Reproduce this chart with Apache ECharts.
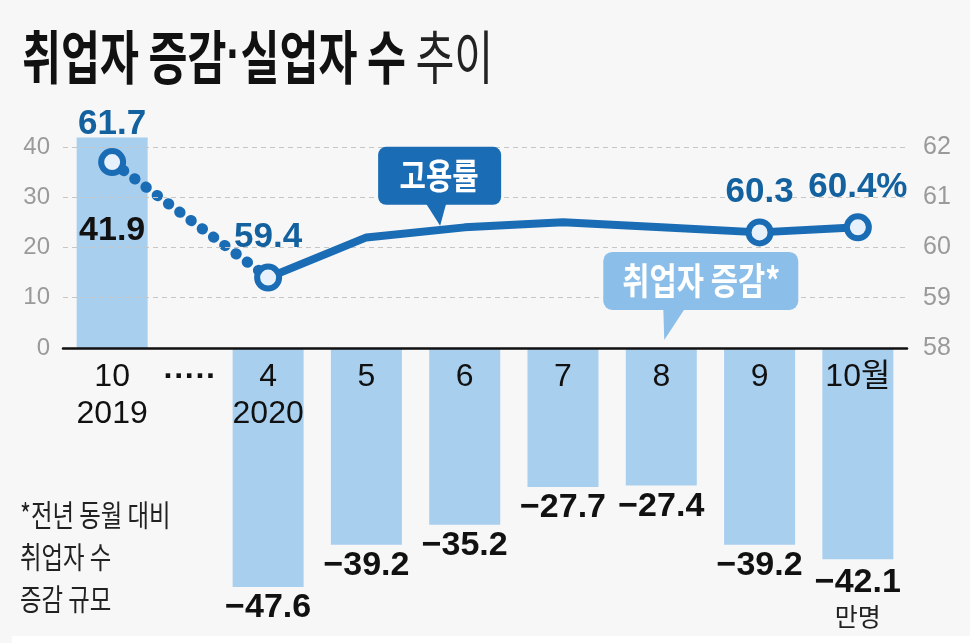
<!DOCTYPE html>
<html>
<head>
<meta charset="utf-8">
<script src="https://cdn.jsdelivr.net/npm/echarts@6/dist/echarts.min.js"></script>
<style>
html,body{margin:0;padding:0;background:#f7f7f7;}
#c{width:970px;height:643px;}
</style>
</head>
<body>
<div id="c"></div>
<script>
// ---- data ----
const categories = ['10\n2019', '4\n2020', '5', '6', '7', '8', '9', '10월'];
const breakLabel = '·····';
const employmentChange = [41.9, -47.6, -39.2, -35.2, -27.7, -27.4, -39.2, -42.1]; // 만명
const employmentRate = [61.7, 59.4, 60.2, 60.4, 60.5, 60.4, 60.3, 60.4];          // %
const rateMarked = [true, true, false, false, false, false, true, true];
const leftTicks = [0, 10, 20, 30, 40];
const rightTicks = [58, 59, 60, 61, 62];
const titleA = '취업자 증감';
const titleB = '실업자 수';
const titleLight = '추이';
const note = '*전년 동월 대비\n취업자 수\n증감 규모';
const unitLabel = '만명';
const rateCallout = '고용률';
const changeCallout = '취업자 증감*';

// ---- layout ----
const BREAK_GAP = 1.587;
const xPos = categories.map((c, i) => i === 0 ? 0 : BREAK_GAP + (i - 1));
const breakPos = BREAK_GAP / 2;
const NUM_FONT = "'Liberation Sans', 'Noto Sans CJK KR', sans-serif";
const KR_FONT = "'Noto Sans CJK KR', sans-serif";
const BLUE = '#1a6cb4';
const LABEL_BLUE = '#13619f';
const BAR = '#a9cfef';
const BAR2 = '#8bbfe9';

const fmtNum = v => (v < 0 ? '−' : '') + Math.abs(v).toFixed(1);

const chart = echarts.init(document.getElementById('c'), null, {renderer: 'canvas'});

const barData = xPos.map((x, i) => {
  const v = employmentChange[i];
  const item = {value: [x, v]};
  if (v >= 0) {
    item.label = {position: 'insideTop', distance: 76};
  } else {
    item.label = {position: 'bottom', distance: 4};
  }
  if (i === xPos.length - 1) {
    item.label.formatter = p => '{v|' + fmtNum(p.value[1]) + '}\n{u|' + unitLabel + '}';
  }
  return item;
});

const rateItem = (i, labelText) => ({
  value: [xPos[i], employmentRate[i]],
  symbol: rateMarked[i] ? 'circle' : 'none',
  label: {show: rateMarked[i], formatter: labelText}
});

const lastIdx = xPos.length - 1;
const dottedData = [rateItem(0, employmentRate[0].toFixed(1)), {value: [xPos[1], employmentRate[1]], symbol: 'none', label: {show: false}}];
const solidData = [];
for (let i = 1; i < xPos.length; i++) {
  const txt = employmentRate[i].toFixed(1) + (i === lastIdx ? '%' : '');
  solidData.push(rateItem(i, txt));
}

const option = {
  backgroundColor: '#f7f7f7',
  animation: false,
  grid: {left: 63, right: 63, top: 147, bottom: 44, containLabel: false, outerBoundsMode: 'none'},
  xAxis: {
    type: 'value',
    position: 'bottom',
    offset: 0,
    min: -0.5,
    max: xPos[lastIdx] + 0.5,
    z: 10,
    splitLine: {show: false},
    axisTick: {show: false},
    axisLine: {show: true, onZero: false, lineStyle: {color: '#111', width: 2.5}},
    axisLabel: {
      customValues: xPos.concat([breakPos]),
      formatter: v => {
        if (Math.abs(v - breakPos) < 1e-6) return '{d|' + breakLabel + '}';
        const i = xPos.findIndex(x => Math.abs(x - v) < 1e-6);
        return i >= 0 ? categories[i] : '';
      },
      color: '#111',
      fontSize: 32,
      lineHeight: 37,
      margin: 11,
      fontFamily: NUM_FONT,
      rich: {d: {fontSize: 32, fontWeight: 'bold', fontFamily: NUM_FONT, color: '#111', lineHeight: 37}}
    }
  },
  yAxis: [
    {
      type: 'value', min: -50, max: 40,
      axisLine: {show: false, onZero: false}, axisTick: {show: false}, splitLine: {show: false},
      axisLabel: {customValues: leftTicks, color: '#9a9a9a', fontSize: 24, margin: 13, fontFamily: NUM_FONT}
    },
    {
      type: 'value', min: 53, max: 62,
      axisLine: {show: false, onZero: false}, axisTick: {show: false}, splitLine: {show: false},
      axisLabel: {customValues: rightTicks, color: '#9a9a9a', fontSize: 25, margin: 16, fontFamily: NUM_FONT}
    }
  ],
  series: [
    {
      type: 'line', data: [], z: 1, silent: true,
      markLine: {
        silent: true, symbol: ['none', 'none'], label: {show: false},
        lineStyle: {type: [5, 4], color: '#c6c6c6', width: 1},
        data: leftTicks.filter(v => v > 0).map(v => ({yAxis: v}))
      }
    },
    {
      type: 'bar', data: barData, barWidth: 71, clip: false, z: 2,
      itemStyle: {color: BAR},
      label: {
        show: true, color: '#111', fontSize: 34, fontWeight: 'bold', fontFamily: NUM_FONT,
        formatter: p => fmtNum(p.value[1]),
        rich: {
          v: {fontSize: 34, fontWeight: 'bold', fontFamily: NUM_FONT, color: '#111', lineHeight: 38},
          u: {fontSize: 25, fontWeight: 'normal', fontFamily: KR_FONT, color: '#222', lineHeight: 30}
        }
      }
    },
    {
      type: 'line', yAxisIndex: 1, data: dottedData, z: 4,
      lineStyle: {color: BLUE, width: 11, type: [0.5, 13.5], cap: 'round'},
      symbolSize: 22,
      itemStyle: {color: '#e6f1fb', borderColor: BLUE, borderWidth: 6},
      label: {show: true, position: 'top', distance: 6, color: LABEL_BLUE, fontSize: 35, fontWeight: 'bold', fontFamily: NUM_FONT}
    },
    {
      type: 'line', yAxisIndex: 1, data: solidData, z: 5,
      lineStyle: {color: BLUE, width: 8, cap: 'round', join: 'round'},
      symbolSize: 22,
      itemStyle: {color: '#e6f1fb', borderColor: BLUE, borderWidth: 6},
      label: {show: true, position: 'top', distance: 9, color: LABEL_BLUE, fontSize: 35, fontWeight: 'bold', fontFamily: NUM_FONT}
    }
  ]
};
chart.setOption(option);

// move the category axis up to the zero line of the left scale
const yZero = chart.convertToPixel({yAxisIndex: 0}, 0);
const yMin = chart.convertToPixel({yAxisIndex: 0}, option.yAxis[0].min);
chart.setOption({xAxis: {offset: yZero - yMin}});

// ---- annotations anchored to the data ----
const p5 = chart.convertToPixel({xAxisIndex: 0, yAxisIndex: 1}, [xPos[2], employmentRate[2]]);
const p6 = chart.convertToPixel({xAxisIndex: 0, yAxisIndex: 1}, [xPos[3], employmentRate[3]]);
const t1 = [p5[0] + 0.75 * (p6[0] - p5[0]), p5[1] + 0.75 * (p6[1] - p5[1]) - 4];
const p8 = chart.convertToPixel({xAxisIndex: 0, yAxisIndex: 0}, [xPos[5], 0]);
const t2 = [p8[0] + 3, p8[1] - 8];

chart.setOption({
  graphic: [
    {
      type: 'text', x: 22, y: 28, scaleX: 0.73, silent: true,
      style: {
        text: '{b|' + titleA + '}{d|·}{b|' + titleB + '}{l| ' + titleLight + '}',
        x: 0, y: 0, verticalAlign: 'top',
        rich: {
          b: {fontSize: 58, fontWeight: 'bold', fontFamily: KR_FONT, fill: '#111'},
          d: {fontSize: 58, fontWeight: 'bold', fontFamily: "'Liberation Sans', sans-serif", fill: '#111'},
          l: {fontSize: 58, fontWeight: 'normal', fontFamily: KR_FONT, fill: '#222'}
        }
      }
    },
    {
      type: 'text', x: 20, y: 494, scaleX: 0.78, silent: true,
      style: {text: note, x: 0, y: 0, verticalAlign: 'top', fontSize: 30, lineHeight: 42, fontFamily: KR_FONT, fill: '#222'}
    },
    {
      type: 'group', silent: true, z: 100, children: [
        {type: 'rect', z: 100, shape: {x: t1[0] - 62, y: t1[1] - 79, width: 123, height: 58, r: 8}, style: {fill: BLUE}},
        {type: 'polygon', z: 100, shape: {points: [[t1[0] - 14, t1[1] - 22], [t1[0] + 6, t1[1] - 22], [t1[0], t1[1]]]}, style: {fill: BLUE}},
        {type: 'text', z: 101, x: t1[0] - 1, y: t1[1] - 50, scaleX: 0.82,
          style: {text: rateCallout, x: 0, y: 0, align: 'center', verticalAlign: 'middle', fontSize: 35, fontWeight: 'bold', fontFamily: KR_FONT, fill: '#fff'}}
      ]
    },
    {
      type: 'group', silent: true, z: 100, children: [
        {type: 'rect', z: 100, shape: {x: t2[0] - 61, y: t2[1] - 88, width: 195, height: 58, r: 9}, style: {fill: BAR2}},
        {type: 'polygon', z: 100, shape: {points: [[t2[0] - 1, t2[1] - 32], [t2[0] + 21, t2[1] - 32], [t2[0], t2[1]]]}, style: {fill: BAR2}},
        {type: 'text', z: 101, x: t2[0] + 37, y: t2[1] - 59, scaleX: 0.8,
          style: {text: changeCallout, x: 0, y: 0, align: 'center', verticalAlign: 'middle', fontSize: 37, fontWeight: 'bold', fontFamily: KR_FONT, fill: '#fff'}}
      ]
    },
    {
      type: 'rect', silent: true, z: -1,
      shape: {x: 12, y: 636, width: 958, height: 7}, style: {fill: '#ffffff'}
    }
  ]
});
</script>
</body>
</html>
